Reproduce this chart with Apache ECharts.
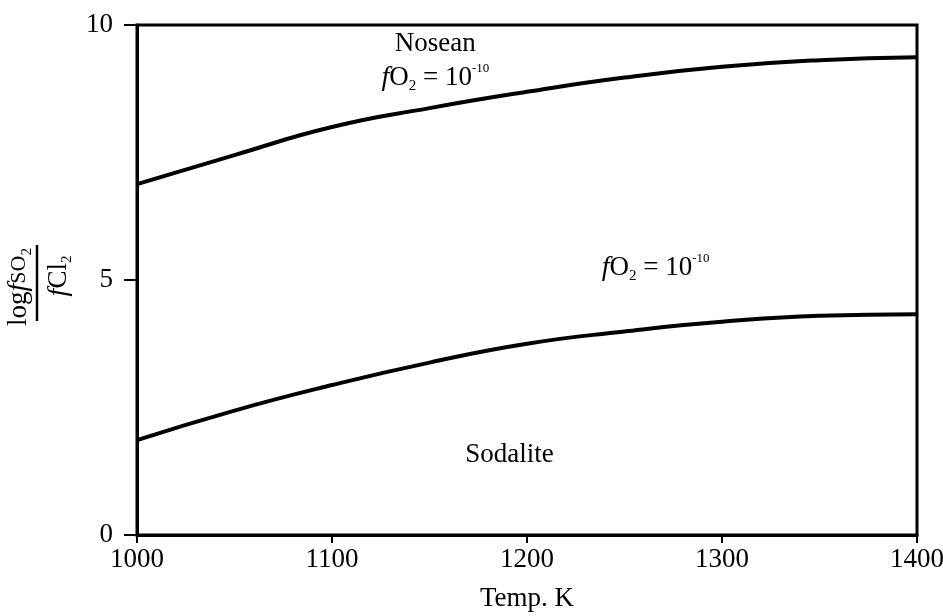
<!DOCTYPE html>
<html>
<head>
<meta charset="utf-8">
<script src="https://cdn.jsdelivr.net/npm/echarts@6/dist/echarts.min.js"></script>
<style>
  html, body { margin: 0; padding: 0; background: #fff; }
  #container { width: 943px; height: 616px; }
</style>
</head>
<body>
<div id="container"></div>
<script>
// temperature (K) and log(fSO2/fCl2)
const temps = [1000, 1050, 1100, 1150, 1200, 1250, 1300, 1350, 1400];
const noseanLine = [6.88, 7.45, 8.0, 8.37, 8.69, 8.97, 9.18, 9.31, 9.37];
const sodaliteLine = [1.86, 2.44, 2.94, 3.38, 3.75, 3.99, 4.18, 4.30, 4.33];
const yTicks = [0, 5, 10];

// text labels, anchored in data coordinates
const fieldLabels = [
    { at: [1153, 9.62], kind: 'name', text: 'Nosean' },
    { at: [1153, 8.96], kind: 'fo2' },
    { at: [1266, 5.24], kind: 'fo2' },
    { at: [1191, 1.57], kind: 'name', text: 'Sodalite' }
];

const serif = '"Liberation Serif", "DejaVu Serif", serif';
const rich = {
    i: { fontFamily: serif, fontStyle: 'italic', fontSize: 28, lineHeight: 32, verticalAlign: 'middle' },
    n: { fontFamily: serif, fontSize: 27, lineHeight: 32, verticalAlign: 'middle' },
    s: { fontFamily: serif, fontSize: 22, lineHeight: 32, verticalAlign: 'middle' },
    sub: { fontFamily: serif, fontSize: 15, lineHeight: 13, verticalAlign: 'bottom' },
    sup: { fontFamily: serif, fontSize: 13, lineHeight: 15, verticalAlign: 'top' }
};

let myChart = echarts.init(document.getElementById('container'));

function toPairs(xs, ys) {
    return xs.map((x, i) => [x, ys[i]]);
}

myChart.setOption({
    animation: false,
    backgroundColor: '#fff',
    grid: {
        left: 137, right: 26, top: 25, bottom: 81,
        outerBoundsMode: 'none',
        containLabel: false,
        show: true, borderColor: '#000', borderWidth: 3
    },
    xAxis: {
        type: 'value',
        min: 1000, max: 1400, interval: 100,
        name: 'Temp. K',
        nameLocation: 'middle',
        nameGap: 50,
        nameTextStyle: { fontFamily: serif, fontSize: 27, color: '#000' },
        axisLine: { show: true, lineStyle: { color: '#000', width: 3 } },
        axisTick: { show: true, length: 8, lineStyle: { color: '#000', width: 2 } },
        axisLabel: {
            fontFamily: serif, fontSize: 27, color: '#000', margin: 11,
            formatter: v => String(v)
        },
        splitLine: { show: false }
    },
    yAxis: {
        type: 'value',
        min: 0, max: 10, interval: 5,
        axisLine: { show: true, lineStyle: { color: '#000', width: 3 } },
        axisTick: { show: true, length: 13, lineStyle: { color: '#000', width: 2 } },
        axisLabel: {
            fontFamily: serif, fontSize: 27, color: '#000', margin: 24,
            formatter: v => yTicks.indexOf(v) >= 0 ? String(v) : ''
        },
        splitLine: { show: false }
    },
    series: [
        {
            type: 'line', name: 'Nosean', data: toPairs(temps, noseanLine),
            smooth: true, showSymbol: false,
            lineStyle: { color: '#000', width: 4 }
        },
        {
            type: 'line', name: 'Sodalite', data: toPairs(temps, sodaliteLine),
            smooth: true, showSymbol: false,
            lineStyle: { color: '#000', width: 4 }
        }
    ]
});

// place text after the scales exist
const texts = fieldLabels.map(l => {
    const p = myChart.convertToPixel({ gridIndex: 0 }, l.at);
    const str = l.kind === 'name'
        ? '{n|' + l.text + '}'
        : '{i|f}{n|O}{sub|2}{n| = 10}{sup|-10}';
    return {
        type: 'text', x: p[0], y: p[1],
        style: { text: str, rich: rich, fill: '#000', align: 'center', verticalAlign: 'middle' }
    };
});

// rotated fraction  log fSO2 / fCl2
const yName = {
    type: 'group', x: 37, y: 283, rotation: Math.PI / 2,
    children: [
        {
            type: 'text', x: -4, y: -18,
            style: { text: '{n|log}{i|f}{s|SO}{sub|2}', rich: rich, fill: '#000', align: 'center', verticalAlign: 'middle' }
        },
        { type: 'line', shape: { x1: -38, y1: 0, x2: 38, y2: 0 }, style: { stroke: '#000', lineWidth: 2.5 } },
        {
            type: 'text', x: 7, y: 22,
            style: { text: '{i|f}{n|Cl}{sub|2}', rich: rich, fill: '#000', align: 'center', verticalAlign: 'middle' }
        }
    ]
};

myChart.setOption({ graphic: texts.concat([yName]) });
</script>
</body>
</html>
